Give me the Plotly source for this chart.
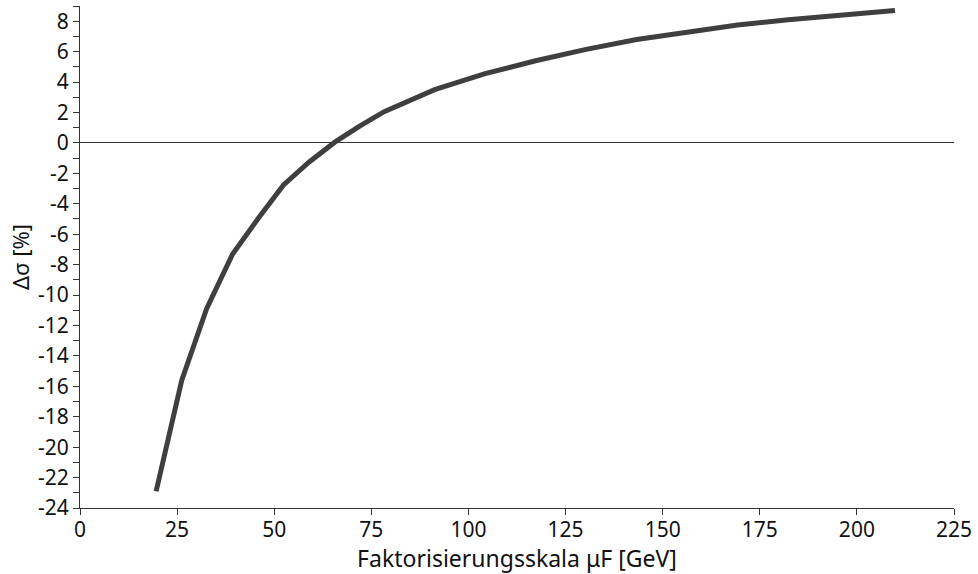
import plotly.graph_objects as go

mu_f = [19.6, 26.2, 32.6, 39.3, 45.9, 52.4, 59.0, 65.6, 72.0, 78.3,
        91.3, 104.3, 117.3, 130.3, 143.3, 156.3, 169.3, 182.3, 195.3, 209.8]
delta_sigma = [-22.9, -15.6, -10.9, -7.3, -4.95, -2.76, -1.25, 0.05, 1.1, 2.05,
               3.5, 4.55, 5.4, 6.15, 6.8, 7.3, 7.75, 8.1, 8.4, 8.7]

x_ticks = [0, 25, 50, 75, 100, 125, 150, 175, 200, 225]
y_ticks = list(range(-24, 9, 2))
y_labels = [str(v) for v in y_ticks]

fig = go.Figure()
fig.add_trace(go.Scatter(x=mu_f, y=delta_sigma, mode="lines",
                         line=dict(color="#3f3f3f", width=5), showlegend=False))

font = "Noto Sans, Open Sans, DejaVu Sans, sans-serif"
fig.update_layout(
    width=978, height=574,
    margin=dict(l=80, r=24, t=6, b=66),
    paper_bgcolor="white", plot_bgcolor="white",
    font=dict(family=font, size=21, color="#111"),
    xaxis=dict(range=[0, 225], tickvals=x_ticks, ticks="outside", ticklen=6,
               tickcolor="#333", showline=True, linecolor="#333", linewidth=1,
               showgrid=False, zeroline=False, tickfont=dict(size=21),
               ticklabelstandoff=-3,
               title=dict(text="Faktorisierungsskala μF [GeV]", font=dict(size=23), standoff=6)),
    yaxis=dict(range=[-24, 9], tickvals=y_ticks, ticktext=y_labels, ticks="outside",
               ticklen=6, tickcolor="#333", showline=True, linecolor="#333", linewidth=1,
               showgrid=False, zeroline=True, zerolinecolor="#333", zerolinewidth=1,
               tickfont=dict(size=21),
               minor=dict(dtick=1, ticks="outside", ticklen=6, tickcolor="#333", showgrid=False),
               title=dict(text="Δσ [%]", font=dict(size=22), standoff=2)),
)
fig.write_html("out.html")
